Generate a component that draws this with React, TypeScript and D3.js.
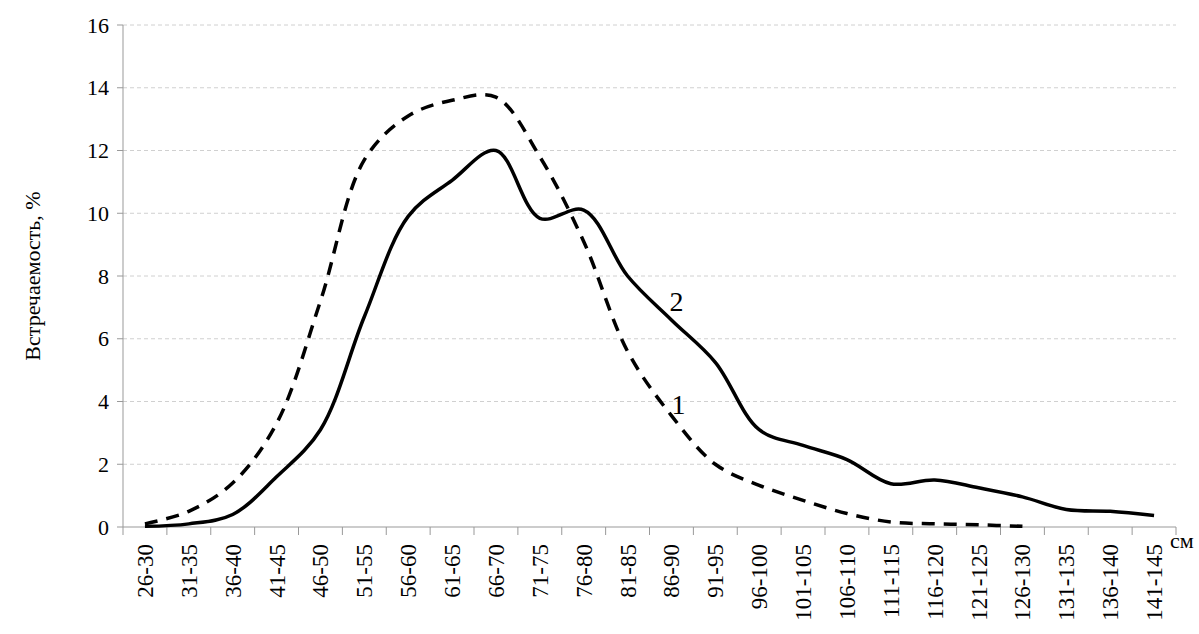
import * as d3 from "d3";

const categories = ["26-30","31-35","36-40","41-45","46-50","51-55","56-60","61-65","66-70","71-75","76-80","81-85","86-90","91-95","96-100","101-105","106-110","111-115","116-120","121-125","126-130","131-135","136-140","141-145"];
// curve 1 (dashed)
const series1 = [0.1,0.5,1.4,3.3,7.2,11.7,13.1,13.6,13.7,11.8,9.1,5.6,3.55,2.0,1.33,0.85,0.43,0.16,0.1,0.07,0.02];
// curve 2 (solid)
const series2 = [0.02,0.1,0.4,1.6,3.1,6.7,9.9,11.05,12.0,9.84,10.1,8.0,6.6,5.25,3.1,2.6,2.15,1.38,1.5,1.25,0.96,0.56,0.5,0.37];
const yTicks = [0,2,4,6,8,10,12,14,16];

const W = 1199, H = 634;
const m = { left: 123, right: 1176, top: 25, bottom: 527 };
const font = "'Liberation Serif', 'Times New Roman', serif";

export default function App() {
  const x = d3.scaleBand().domain(categories).range([m.left, m.right]);
  const cx = (i: number) => x(categories[i])! + x.bandwidth() / 2;
  const y = d3.scaleLinear().domain([0, 16]).range([m.bottom, m.top]);
  const line = d3.line<number>().x((_, i) => cx(i)).y((d) => y(d)).curve(d3.curveCatmullRom.alpha(0.5));

  return (
    <svg width={W} height={H} style={{ position: "absolute", left: 0, top: 0, background: "#fff" }}>
      <g fontFamily={font} fill="#000">
        {yTicks.map((t) => (
          <g key={t}>
            {t > 0 && <line x1={m.left} x2={m.right} y1={y(t)} y2={y(t)} stroke="#d0d0d0" strokeDasharray="4,3" />}
            <line x1={m.left - 6} x2={m.left} y1={y(t)} y2={y(t)} stroke="#999" />
            <text x={m.left - 14} y={y(t)} dy="0.35em" textAnchor="end" fontSize={22}>{t}</text>
          </g>
        ))}
        <line x1={m.left} x2={m.left} y1={m.top} y2={m.bottom} stroke="#999" />
        <line x1={m.left} x2={m.right} y1={m.bottom} y2={m.bottom} stroke="#999" />
        {categories.map((c, i) => (
          <g key={c}>
            <line x1={x(c)!} x2={x(c)!} y1={m.bottom} y2={m.bottom + 8} stroke="#999" />
            <text transform={`translate(${cx(i) + 8},${m.bottom + 17}) rotate(-90)`} textAnchor="end" fontSize={23}>{c}</text>
          </g>
        ))}
        <line x1={m.right} x2={m.right} y1={m.bottom} y2={m.bottom + 8} stroke="#999" />
        <text x={m.right - 6} y={m.bottom + 21} fontSize={22}>см</text>
        <text transform={`translate(40,${(m.top + m.bottom) / 2}) rotate(-90)`} textAnchor="middle" fontSize={22}>Встречаемость, %</text>
        <path d={line(series1)!} fill="none" stroke="#000" strokeWidth={3.5} strokeDasharray="13,9" />
        <path d={line(series2)!} fill="none" stroke="#000" strokeWidth={3.5} />
        <text x={cx(12) + 5} y={y(6.9)} textAnchor="middle" fontSize={28}>2</text>
        <text x={cx(12) + 7} y={y(3.6)} textAnchor="middle" fontSize={28}>1</text>
      </g>
    </svg>
  );
}
